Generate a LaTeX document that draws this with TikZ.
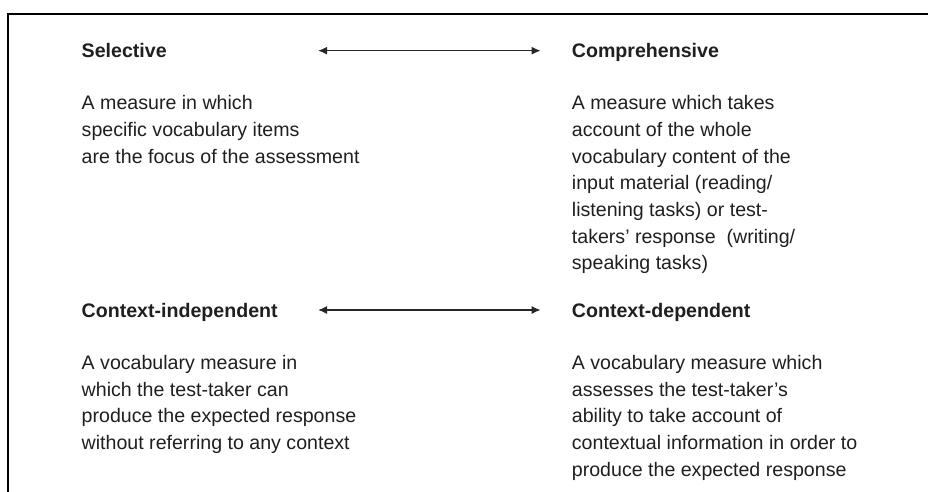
\documentclass[tikz,border=0pt]{standalone}
\usepackage{fontspec}
\setmainfont{Liberation Sans}
\usetikzlibrary{arrows.meta}
\begin{document}
\begin{tikzpicture}[x=1pt,y=1pt,
  txt/.style={inner sep=0pt, anchor=base west, align=left, text=black!88,
    font=\fontsize{19.6}{26.7}\selectfont},
  head/.style={txt, font=\fontsize{19.6}{26.7}\selectfont\bfseries},
  dual/.style={{Latex[length=9pt,width=8pt]}-{Latex[length=9pt,width=8pt]}, line width=1.5pt, draw=black!85}]
\useasboundingbox (0,0) rectangle (928,-492);
\draw[line width=2pt] (8,-492) -- (8,-14) -- (928,-14);

% base anchor of a multi-line node = baseline of its last line
\node[head] (sel) at (81.5,-57.7) {Selective};
\node[head] (comp) at (571.7,-57.7) {Comprehensive};
\node[txt] (selb) at (81.5,-163.1) {A measure in which\\specific vocabulary items\\are the focus of the assessment};
\node[txt] (compb) at (571.7,-269.9) {A measure which takes\\account of the whole\\vocabulary content of the\\input material (reading/\\listening tasks) or test-\\takers’ response\ \ (writing/\\speaking tasks)};

\node[head] (ci) at (81.5,-317) {Context-independent};
\node[head] (cd) at (571.7,-317) {Context-dependent};
\node[txt] (cib) at (81.5,-449.6) {A vocabulary measure in\\which the test-taker can\\produce the expected response\\without referring to any context};
\node[txt] (cdb) at (571.7,-476.3) {A vocabulary measure which\\assesses the test-taker’s\\ability to take account of\\contextual information in order to\\produce the expected response};

\coordinate (a1l) at (318,-50.7);
\coordinate (a1r) at (540.7,-50.7);
\coordinate (a2l) at (318,-310);
\coordinate (a2r) at (540.7,-310);
\draw[dual] (a1l) -- (a1r);
\draw[dual] (a2l) -- (a2r);
\end{tikzpicture}
\end{document}
